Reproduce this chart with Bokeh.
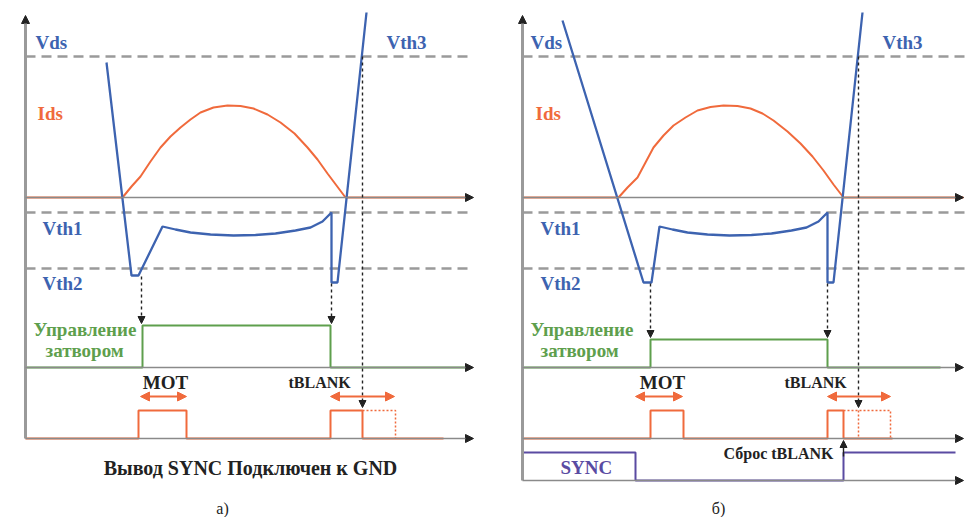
from bokeh.plotting import figure
from bokeh.models import Range1d, Arrow, NormalHead
from bokeh.embed import file_html
from bokeh.resources import INLINE
from bokeh.core.properties import value

# ---------------- data (schematic waveforms) ----------------
# Panel a) : SYNC pin tied to GND
A_VDS_X = [106, 131, 138, 162, 175, 190, 210, 233, 255, 275, 295, 310, 322, 331, 331, 337, 366]
A_VDS_Y = [62, 275, 275, 226, 229, 232, 234, 235, 234.5, 233, 230, 227, 221, 212, 282, 282, 12]
A_IDS_X = [25, 122, 131, 140, 150, 160, 170, 180, 190, 200, 213, 227, 240, 253, 267, 280,
           294, 307, 317, 327, 336, 345, 470]
A_IDS_Y = [197, 197, 186, 176, 161, 147, 136, 127, 119, 112, 107, 105, 105.5, 108, 114, 122,
           133, 147, 159, 173, 185, 197, 197]
A_GATE_X = [25, 142, 142, 330, 330, 470]
A_GATE_Y = [367, 367, 325, 325, 367, 367]
A_PULSE_X = [25, 138, 138, 186, 186, 330, 330, 362, 362, 443]
A_PULSE_Y = [438, 438, 410, 410, 438, 438, 410, 410, 438, 438]
A_BLANK_X = [362, 395, 395]
A_BLANK_Y = [410, 410, 438]

# Panel б) : SYNC pin driven
B_VDS_X = [562, 643, 651, 659, 672, 687, 707, 729, 751, 771, 791, 806, 818, 827, 827, 833, 862]
B_VDS_Y = [20, 282, 282, 226, 229, 232, 234, 235, 234.5, 233, 230, 227, 221, 212, 282, 282, 12]
B_IDS_X = [522, 618, 627, 637, 645, 653, 663, 673, 685, 697, 710, 723, 737, 750, 762, 773,
           787, 800, 812, 823, 833, 843, 963]
B_IDS_Y = [197, 197, 187, 177, 162, 147, 135, 125, 117, 110, 106.5, 105, 105.5, 108, 113, 120,
           131, 143, 156, 170, 184, 197, 197]
B_GATE_X = [522, 650, 650, 827, 827, 940]
B_GATE_Y = [367, 367, 339, 339, 367, 367]
B_PULSE_X = [522, 650, 650, 683, 683, 827, 827, 843, 843, 892]
B_PULSE_Y = [438, 438, 410, 410, 438, 438, 410, 410, 438, 438]
B_BLANK_X = [843, 890, 890]
B_BLANK_Y = [410, 410, 438]
B_BLANK_MID_X = [858, 858]
B_BLANK_MID_Y = [410, 438]
B_SYNC_X = [522, 635, 635, 843, 843, 955]
B_SYNC_Y = [452, 452, 480, 480, 452, 452]

# thresholds (Vth3, Vth1, Vth2)
TH_Y = [56, 212, 268]

# ---------------- styles ----------------
BLUE = "#3d63b0"
ORANGE = "#f06a3c"
GREEN = "#5e9f4d"
PURPLE = "#5a4ba2"
GRAY = "#8a8a8a"
DGRAY = "#9a9a9a"
BLACK = "#222222"
FONT = value("Liberation Serif")

p = figure(width=965, height=517, output_backend="svg", toolbar_location=None,
           x_range=Range1d(0, 965), y_range=Range1d(517, 0),
           min_border=0, x_axis_type=None, y_axis_type=None)
p.grid.visible = False
p.outline_line_color = None
p.background_fill_color = "white"


def axis_arrow(x0, y0, x1, y1, w=1.5, color=GRAY):
    p.add_layout(Arrow(x_start=x0, y_start=y0, x_end=x1, y_end=y1,
                       line_color=color, line_width=w,
                       end=NormalHead(size=8, fill_color=BLACK, line_color=BLACK)))


def dotted_arrow(x, y0, y1):
    p.add_layout(Arrow(x_start=x, y_start=y0, x_end=x, y_end=y1,
                       line_color=BLACK, line_width=1.4, line_dash="3 3",
                       end=NormalHead(size=7, fill_color=BLACK, line_color=BLACK)))


def double_arrow(x0, x1, y):
    p.add_layout(Arrow(x_start=x0, y_start=y, x_end=x1, y_end=y,
                       line_color=ORANGE, line_width=2,
                       start=NormalHead(size=9, fill_color=ORANGE, line_color=ORANGE),
                       end=NormalHead(size=9, fill_color=ORANGE, line_color=ORANGE)))


def label(x, y, txt, color, size="19px", align="left", style="bold"):
    p.text(x=[x], y=[y], text=[txt], text_color=color, text_font=FONT,
           text_font_size=size, text_font_style=style, text_align=align,
           text_baseline="middle")


# ---------------- panel frames ----------------
for (x0, ybot, hx1, dash_x1, h_axes) in [
        (25, 438, 473, 470, [197, 367, 438]),
        (522, 480, 963, 965, [197, 367, 438, 480])]:
    axis_arrow(x0, ybot, x0, 15, w=3, color=DGRAY)
    for ya in h_axes:
        axis_arrow(x0, ya, hx1, ya)
    for yt in TH_Y:
        p.line([x0, dash_x1], [yt, yt], line_color=DGRAY, line_width=2.5, line_dash="10 6")

# ---------------- panel a) ----------------
p.line(A_IDS_X, A_IDS_Y, line_color=ORANGE, line_width=2)
p.line(A_GATE_X, A_GATE_Y, line_color=GREEN, line_width=2)
p.line(A_PULSE_X, A_PULSE_Y, line_color=ORANGE, line_width=2)
p.line(A_BLANK_X, A_BLANK_Y, line_color=ORANGE, line_width=1.5, line_dash="2 2")
p.line(A_VDS_X, A_VDS_Y, line_color=BLUE, line_width=2.3)
dotted_arrow(141, 276, 323)
dotted_arrow(331, 283, 323)
dotted_arrow(362, 56, 407)
double_arrow(140, 186, 396)
double_arrow(330, 394, 396)

label(35, 42, "Vds", BLUE)
label(386, 42, "Vth3", BLUE)
label(37, 113, "Ids", ORANGE)
label(42, 228, "Vth1", BLUE)
label(42, 283, "Vth2", BLUE)
label(33, 329, "Управление", GREEN)
label(45, 350, "затвором", GREEN)
label(165, 382, "MOT", BLACK, align="center")
label(288, 382, "tBLANK", BLACK, size="16px")
label(250, 467, "Вывод SYNC Подключен к GND", BLACK, size="20px", align="center")
label(222, 508, "а)", BLACK, size="16px", align="center", style="normal")

# ---------------- panel б) ----------------
p.line(B_IDS_X, B_IDS_Y, line_color=ORANGE, line_width=2)
p.line(B_GATE_X, B_GATE_Y, line_color=GREEN, line_width=2)
p.line(B_PULSE_X, B_PULSE_Y, line_color=ORANGE, line_width=2)
p.line(B_BLANK_X, B_BLANK_Y, line_color=ORANGE, line_width=1.5, line_dash="2 2")
p.line(B_BLANK_MID_X, B_BLANK_MID_Y, line_color=ORANGE, line_width=1.5, line_dash="2 2")
p.line(B_SYNC_X, B_SYNC_Y, line_color=PURPLE, line_width=2)
p.line(B_VDS_X, B_VDS_Y, line_color=BLUE, line_width=2.3)
dotted_arrow(650, 283, 337)
dotted_arrow(827, 283, 337)
dotted_arrow(858, 56, 407)
double_arrow(635, 682, 396)
double_arrow(827, 890, 396)
p.add_layout(Arrow(x_start=843, y_start=456, x_end=843, y_end=440,
                   line_color=BLACK, line_width=1.4,
                   end=NormalHead(size=7, fill_color=BLACK, line_color=BLACK)))

label(530, 42, "Vds", BLUE)
label(882, 42, "Vth3", BLUE)
label(535, 113, "Ids", ORANGE)
label(540, 228, "Vth1", BLUE)
label(540, 283, "Vth2", BLUE)
label(530, 329, "Управление", GREEN)
label(540, 350, "затвором", GREEN)
label(662, 382, "MOT", BLACK, align="center")
label(784, 382, "tBLANK", BLACK, size="16px")
label(723, 453, "Сброс tBLANK", BLACK, size="16px")
label(560, 467, "SYNC", PURPLE)
label(718, 508, "б)", BLACK, size="16px", align="center", style="normal")

open("out.html", "w").write(file_html(p, INLINE))
